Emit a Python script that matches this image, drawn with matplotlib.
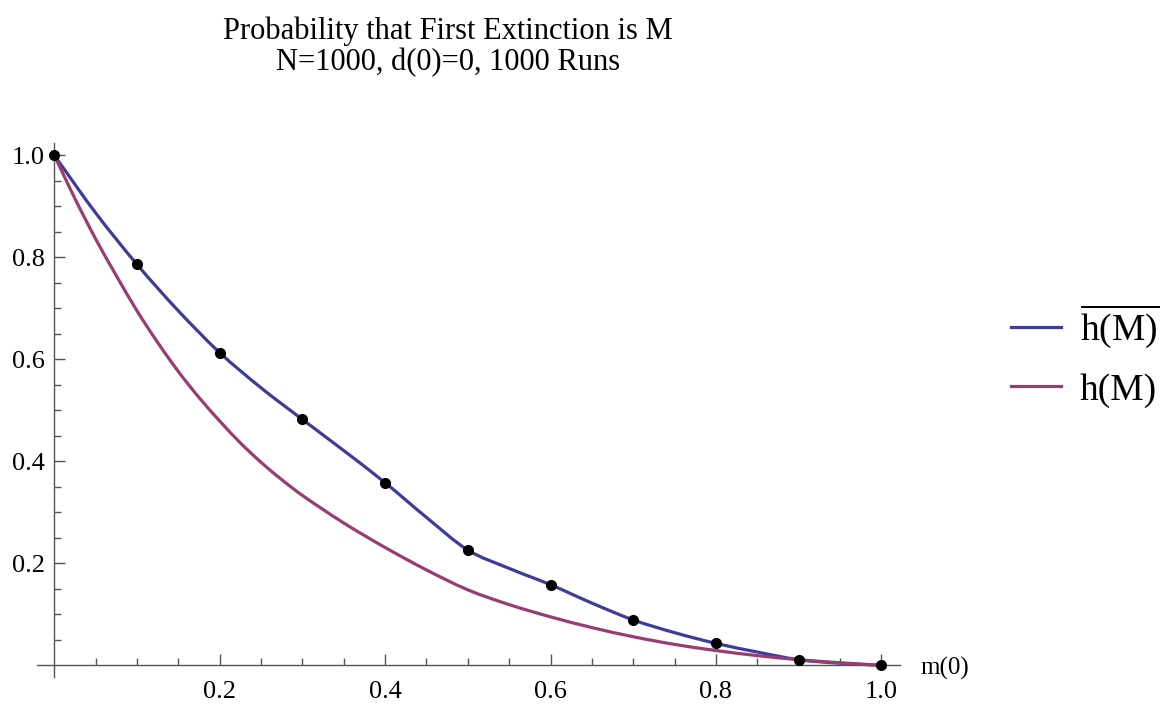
import numpy as np
import matplotlib
matplotlib.use("Agg")
import matplotlib.pyplot as plt
from matplotlib.lines import Line2D
from matplotlib.path import Path
from matplotlib.patches import PathPatch
from matplotlib.ticker import FixedLocator

plt.rcParams['font.family'] = ['Liberation Serif', 'DejaVu Serif']
plt.rcParams['mathtext.fontset'] = 'custom'
plt.rcParams['mathtext.rm'] = 'Liberation Serif'

# simulated runs: probability that M goes extinct first
m_runs = [0.0, 0.1, 0.2, 0.3, 0.4, 0.5, 0.6, 0.7, 0.8, 0.9, 1.0]
h_runs = [1.0, 0.786, 0.613, 0.482, 0.358, 0.226, 0.158, 0.089, 0.043, 0.011, 0.0]

# values between the runs
m_fit = [0.0, 0.05, 0.1, 0.15, 0.2, 0.25, 0.3, 0.35, 0.4, 0.45, 0.5,
         0.55, 0.6, 0.65, 0.7, 0.75, 0.8, 0.85, 0.9, 0.95, 1.0]
h_fit = [1.0, 0.887, 0.786, 0.695, 0.613, 0.544, 0.482, 0.421, 0.358, 0.290, 0.226,
         0.190, 0.158, 0.122, 0.089, 0.064, 0.043, 0.026, 0.011, 0.004, 0.0]

# theoretical h(M)
m_theory = [0.0, 0.025, 0.05, 0.075, 0.1, 0.125, 0.15, 0.175, 0.2, 0.225, 0.25, 0.275,
            0.3, 0.35, 0.4, 0.45, 0.5, 0.55, 0.6, 0.65, 0.7, 0.75, 0.8, 0.85, 0.9, 0.95, 1.0]
h_theory = [1.0, 0.915, 0.836, 0.764, 0.695, 0.633, 0.576, 0.525, 0.479, 0.436, 0.398, 0.364,
            0.333, 0.279, 0.231, 0.187, 0.148, 0.119, 0.095, 0.074, 0.056, 0.041, 0.029,
            0.019, 0.011, 0.005, 0.0]

blue = '#3d3d99'
purple = '#993d71'
axis_col = '#555555'


def smooth_path(xs, ys):
    # cubic Hermite segments through every point, drawn as Bezier curves
    xs = np.asarray(xs, float)
    ys = np.asarray(ys, float)
    n = len(xs)
    slope = np.empty(n)
    slope[0] = (ys[1] - ys[0]) / (xs[1] - xs[0])
    slope[-1] = (ys[-1] - ys[-2]) / (xs[-1] - xs[-2])
    slope[1:-1] = (ys[2:] - ys[:-2]) / (xs[2:] - xs[:-2])
    verts = [(xs[0], ys[0])]
    codes = [Path.MOVETO]
    for i in range(n - 1):
        h = (xs[i + 1] - xs[i]) / 3
        verts += [(xs[i] + h, ys[i] + slope[i] * h),
                  (xs[i + 1] - h, ys[i + 1] - slope[i + 1] * h),
                  (xs[i + 1], ys[i + 1])]
        codes += [Path.CURVE4] * 3
    return Path(verts, codes)


fig = plt.figure(figsize=(11.61, 7.07), dpi=100)
ax = fig.add_axes([0.0318, 0.0424, 0.7434, 0.7553])

ax.add_patch(PathPatch(smooth_path(m_fit, h_fit), fill=False, edgecolor=blue,
                       lw=2.3, zorder=2))
ax.add_patch(PathPatch(smooth_path(m_theory, h_theory), fill=False, edgecolor=purple,
                       lw=2.3, zorder=3))
ax.plot(m_runs, h_runs, 'o', color='black', ms=7, zorder=4, clip_on=False)

ax.set_xlim(-0.021, 1.0226)
ax.set_ylim(-0.023, 1.024)

for side in ['top', 'right']:
    ax.spines[side].set_visible(False)
for side in ['left', 'bottom']:
    ax.spines[side].set_position(('data', 0))
    ax.spines[side].set_color(axis_col)
    ax.spines[side].set_linewidth(1.0)

major = [0.2, 0.4, 0.6, 0.8, 1.0]
minor = [v for v in np.arange(0.05, 1.001, 0.05) if round(v * 20) % 4 != 0]
ax.xaxis.set_major_locator(FixedLocator(major))
ax.yaxis.set_major_locator(FixedLocator(major))
ax.xaxis.set_minor_locator(FixedLocator(minor))
ax.yaxis.set_minor_locator(FixedLocator(minor))
ax.set_xticklabels(['0.2', '0.4', '0.6', '0.8', '1.0'])
ax.set_yticklabels(['0.2', '0.4', '0.6', '0.8', '1.0'])
ax.tick_params(which='both', direction='in', color=axis_col, width=1.0, labelsize=19)
ax.tick_params(which='major', length=8)
ax.tick_params(which='minor', length=5.3)
ax.tick_params(axis='x', which='major', pad=11)
ax.tick_params(axis='y', which='major', pad=7)

fig.text(920 / 1161, 1 - 668 / 707, 'm(0)', fontsize=18, ha='left', va='center')

fig.text(448 / 1161, 1 - 31 / 707, 'Probability that First Extinction is M',
         fontsize=22, ha='center', va='center')
fig.text(448 / 1161, 1 - 63 / 707, 'N=1000, d(0)=0, 1000 Runs',
         fontsize=22, ha='center', va='center')

handles = [Line2D([], [], color=blue, lw=2.3), Line2D([], [], color=purple, lw=2.3)]
labels = [r'$\overline{\mathrm{h(M)}}$', 'h(M)']
fig.legend(handles, labels, loc='center left', bbox_to_anchor=(1011 / 1161, 1 - 355 / 707),
           frameon=False, fontsize=27, handlelength=1.34, handletextpad=0.5,
           labelspacing=0.61, borderaxespad=0, borderpad=0)

fig.savefig('out.png', dpi=100)
